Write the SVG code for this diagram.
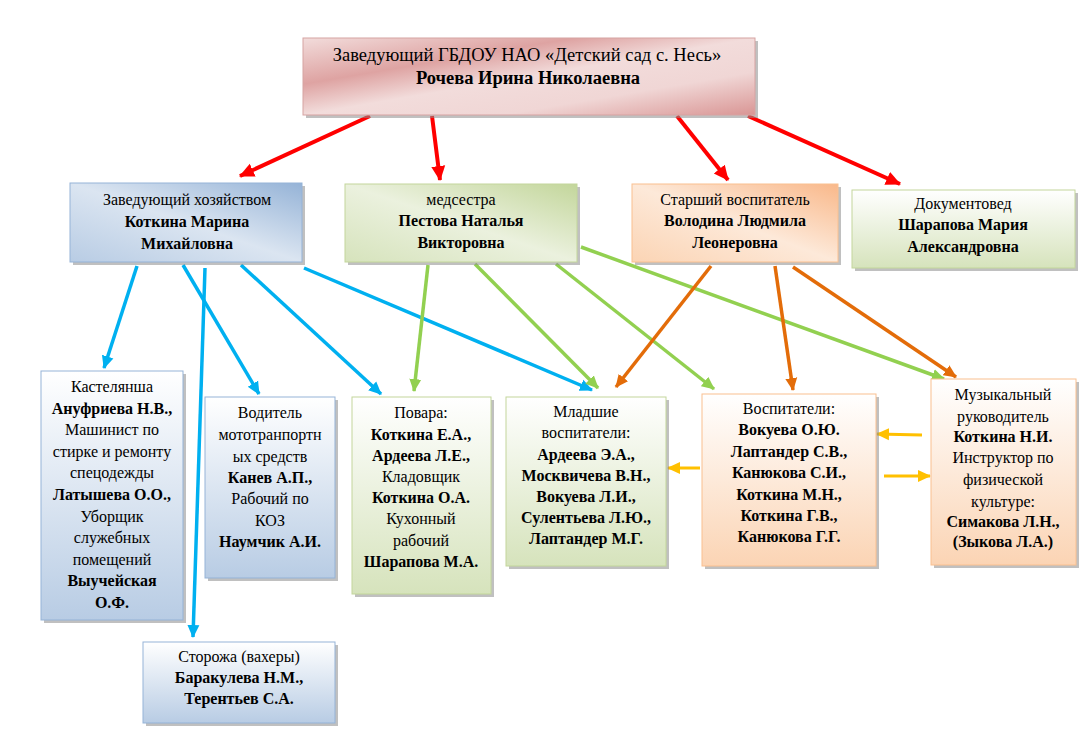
<svg xmlns="http://www.w3.org/2000/svg" width="1092" height="735" viewBox="0 0 1092 735">
<style>
text{font-family:'Liberation Serif','Times New Roman','DejaVu Serif',serif;font-size:16px;text-anchor:middle;fill:#000}
.b{font-weight:bold}
.t{font-size:18.5px}
.sh{fill:#8c8c8c;opacity:0.55}
.red{stroke:#ff0000;stroke-width:4;fill:none}
.blue{stroke:#00b0f0;stroke-width:3.5;fill:none}
.green{stroke:#92d050;stroke-width:3.5;fill:none}
.orange{stroke:#e36c09;stroke-width:3.5;fill:none}
.yellow{stroke:#ffc000;stroke-width:3;fill:none}
</style>
<defs>
<linearGradient id="gTop" x1="0" y1="0" x2="1" y2="1">
<stop offset="0" stop-color="#f2dcdb"/><stop offset="0.3" stop-color="#dea3a2"/><stop offset="0.5" stop-color="#f2dcdb"/><stop offset="0.72" stop-color="#f0d6d5"/><stop offset="1" stop-color="#d99594"/>
</linearGradient>
<linearGradient id="gBlue" x1="0" y1="1" x2="1" y2="0">
<stop offset="0" stop-color="#b8cce4"/><stop offset="0.5" stop-color="#dbe5f1"/><stop offset="1" stop-color="#95b3d7"/>
</linearGradient>
<linearGradient id="gGreen" x1="0" y1="1" x2="1" y2="0">
<stop offset="0" stop-color="#d6e3bc"/><stop offset="0.5" stop-color="#ebf1de"/><stop offset="1" stop-color="#c3d69b"/>
</linearGradient>
<linearGradient id="gOrange" x1="0" y1="1" x2="1" y2="0">
<stop offset="0" stop-color="#fbd4b4"/><stop offset="0.5" stop-color="#fde9d9"/><stop offset="1" stop-color="#f9b88a"/>
</linearGradient>
<linearGradient id="vGreen" x1="0" y1="0" x2="0" y2="1">
<stop offset="0" stop-color="#ffffff"/><stop offset="1" stop-color="#d6e3bc"/>
</linearGradient>
<linearGradient id="vBlue" x1="0" y1="0" x2="0" y2="1">
<stop offset="0" stop-color="#ffffff"/><stop offset="1" stop-color="#b8cce4"/>
</linearGradient>
<linearGradient id="vOrange" x1="0" y1="0" x2="0" y2="1">
<stop offset="0" stop-color="#ffffff"/><stop offset="1" stop-color="#fbd4b4"/>
</linearGradient>
<marker id="mRed" markerUnits="userSpaceOnUse" markerWidth="16" markerHeight="16" refX="14" refY="8" orient="auto"><path d="M0,1 L15,8 L0,15 Z" fill="#ff0000"/></marker>
<marker id="mBlue" markerUnits="userSpaceOnUse" markerWidth="14" markerHeight="14" refX="12" refY="7" orient="auto"><path d="M0,1 L13,7 L0,13 Z" fill="#00b0f0"/></marker>
<marker id="mGreen" markerUnits="userSpaceOnUse" markerWidth="14" markerHeight="14" refX="12" refY="7" orient="auto"><path d="M0,1 L13,7 L0,13 Z" fill="#92d050"/></marker>
<marker id="mOrange" markerUnits="userSpaceOnUse" markerWidth="14" markerHeight="14" refX="12" refY="7" orient="auto"><path d="M0,1 L13,7 L0,13 Z" fill="#e36c09"/></marker>
<marker id="mYellow" markerUnits="userSpaceOnUse" markerWidth="14" markerHeight="14" refX="12" refY="7" orient="auto"><path d="M0,1 L13,7 L0,13 Z" fill="#ffc000"/></marker>
</defs>
<rect width="1092" height="735" fill="#ffffff"/>

<g id="connectors">
<line class="red" x1="370" y1="116" x2="240" y2="176" marker-end="url(#mRed)"/>
<line class="red" x1="432" y1="116" x2="440" y2="180" marker-end="url(#mRed)"/>
<line class="red" x1="677" y1="116" x2="728" y2="180" marker-end="url(#mRed)"/>
<line class="red" x1="748" y1="116" x2="900" y2="184" marker-end="url(#mRed)"/>
<line class="blue" x1="137" y1="266" x2="104" y2="368" marker-end="url(#mBlue)"/>
<line class="blue" x1="183" y1="265" x2="259" y2="394" marker-end="url(#mBlue)"/>
<line class="blue" x1="205" y1="268" x2="193" y2="637" marker-end="url(#mBlue)"/>
<line class="blue" x1="241" y1="265" x2="381" y2="394" marker-end="url(#mBlue)"/>
<line class="blue" x1="304" y1="268" x2="592" y2="390" marker-end="url(#mBlue)"/>
<line class="green" x1="428" y1="265" x2="414" y2="391" marker-end="url(#mGreen)"/>
<line class="green" x1="475" y1="264" x2="598" y2="388" marker-end="url(#mGreen)"/>
<line class="green" x1="556" y1="264" x2="714" y2="389" marker-end="url(#mGreen)"/>
<line class="green" x1="581" y1="247" x2="944" y2="379" marker-end="url(#mGreen)"/>
<line class="orange" x1="711" y1="266" x2="616" y2="387" marker-end="url(#mOrange)"/>
<line class="orange" x1="775" y1="266" x2="793" y2="390" marker-end="url(#mOrange)"/>
<line class="orange" x1="793" y1="267" x2="956" y2="377" marker-end="url(#mOrange)"/>
<line class="yellow" x1="700" y1="468" x2="668" y2="468" marker-end="url(#mYellow)"/>
<line class="yellow" x1="922" y1="435" x2="877" y2="434" marker-end="url(#mYellow)"/>
<line class="yellow" x1="884" y1="476" x2="930" y2="476" marker-end="url(#mYellow)"/>
</g>

<g id="head" font-family="Liberation Serif, serif">
<rect class="sh" x="306" y="41" width="452" height="77"/>
<rect x="303" y="38" width="452" height="77" fill="url(#gTop)" stroke="#d6a3a2" stroke-width="1"/>
<text class="t" x="527" y="61">Заведующий ГБДОУ НАО «Детский сад с. Несь»</text>
<text class="t b" x="528" y="84">Рочева Ирина Николаевна</text>
</g>

<g id="zavhoz">
<rect class="sh" x="73" y="186" width="232" height="79"/>
<rect x="70" y="183" width="232" height="79" fill="url(#gBlue)" stroke="#95b3d7"/>
<text x="187" y="205">Заведующий хозяйством</text>
<text class="b" x="187" y="227">Коткина Марина</text>
<text class="b" x="187" y="249">Михайловна</text>
</g>

<g id="medsestra">
<rect class="sh" x="348" y="187" width="232" height="78"/>
<rect x="345" y="184" width="232" height="78" fill="url(#gGreen)" stroke="#c3d69b"/>
<text x="461" y="205">медсестра</text>
<text class="b" x="461" y="226">Пестова Наталья</text>
<text class="b" x="461" y="248">Викторовна</text>
</g>

<g id="starshiy">
<rect class="sh" x="635" y="187" width="206" height="78"/>
<rect x="632" y="184" width="206" height="78" fill="url(#gOrange)" stroke="#fac090"/>
<text x="735" y="205">Старший воспитатель</text>
<text class="b" x="735" y="226">Володина Людмила</text>
<text class="b" x="735" y="248">Леонеровна</text>
</g>

<g id="dokumentoved">
<rect class="sh" x="855" y="193" width="223" height="78"/>
<rect x="852" y="190" width="223" height="78" fill="url(#vGreen)" stroke="#c3d69b"/>
<text x="963" y="209">Документовед</text>
<text class="b" x="963" y="230">Шарапова Мария</text>
<text class="b" x="963" y="252">Александровна</text>
</g>

<g id="kastelyansha">
<rect class="sh" x="44" y="374" width="142" height="249"/>
<rect x="41" y="371" width="142" height="249" fill="url(#vBlue)" stroke="#95b3d7"/>
<text x="112" y="392">Кастелянша</text>
<text class="b" x="112" y="414">Ануфриева Н.В.,</text>
<text x="112" y="435">Машинист по</text>
<text x="112" y="457">стирке и ремонту</text>
<text x="112" y="478">спецодежды</text>
<text class="b" x="112" y="500">Латышева О.О.,</text>
<text x="112" y="522">Уборщик</text>
<text x="112" y="543">служебных</text>
<text x="112" y="565">помещений</text>
<text class="b" x="112" y="586">Выучейская</text>
<text class="b" x="112" y="608">О.Ф.</text>
</g>

<g id="voditel">
<rect class="sh" x="208" y="400" width="130" height="181"/>
<rect x="205" y="397" width="130" height="181" fill="url(#vBlue)" stroke="#95b3d7"/>
<text x="270" y="418">Водитель</text>
<text x="270" y="440">мототранпортн</text>
<text x="270" y="462">ых средств</text>
<text class="b" x="270" y="483">Канев А.П.,</text>
<text x="270" y="504">Рабочий по</text>
<text x="270" y="526">КОЗ</text>
<text class="b" x="270" y="547">Наумчик А.И.</text>
</g>

<g id="povara">
<rect class="sh" x="355" y="400" width="139" height="197"/>
<rect x="352" y="397" width="139" height="197" fill="url(#vGreen)" stroke="#c3d69b"/>
<text x="421" y="418">Повара:</text>
<text class="b" x="421" y="440">Коткина Е.А.,</text>
<text class="b" x="421" y="461">Ардеева Л.Е.,</text>
<text x="421" y="482">Кладовщик</text>
<text class="b" x="421" y="503">Коткина О.А.</text>
<text x="421" y="524">Кухонный</text>
<text x="421" y="546">рабочий</text>
<text class="b" x="421" y="567">Шарапова М.А.</text>
</g>

<g id="mladshie">
<rect class="sh" x="509" y="400" width="160" height="169"/>
<rect x="506" y="397" width="160" height="169" fill="url(#vGreen)" stroke="#c3d69b"/>
<text x="586" y="417">Младшие</text>
<text x="586" y="438">воспитатели:</text>
<text class="b" x="586" y="460">Ардеева Э.А.,</text>
<text class="b" x="586" y="481">Москвичева В.Н.,</text>
<text class="b" x="586" y="502">Вокуева Л.И.,</text>
<text class="b" x="586" y="523">Сулентьева Л.Ю.,</text>
<text class="b" x="586" y="544">Лаптандер М.Г.</text>
</g>

<g id="vospitateli">
<rect class="sh" x="705" y="397" width="174" height="172"/>
<rect x="702" y="394" width="174" height="172" fill="url(#vOrange)" stroke="#fac090"/>
<text x="789" y="414">Воспитатели:</text>
<text class="b" x="789" y="435">Вокуева О.Ю.</text>
<text class="b" x="789" y="457">Лаптандер С.В.,</text>
<text class="b" x="789" y="478">Канюкова С.И.,</text>
<text class="b" x="789" y="500">Коткина М.Н.,</text>
<text class="b" x="789" y="521">Коткина Г.В.,</text>
<text class="b" x="789" y="542">Канюкова Г.Г.</text>
</g>

<g id="muzykalny">
<rect class="sh" x="934" y="382" width="145" height="186"/>
<rect x="931" y="379" width="145" height="186" fill="url(#vOrange)" stroke="#fac090"/>
<text x="1003" y="400">Музыкальный</text>
<text x="1003" y="422">руководитель</text>
<text class="b" x="1003" y="442">Коткина Н.И.</text>
<text x="1003" y="463">Инструктор по</text>
<text x="1003" y="485">физической</text>
<text x="1003" y="507">культуре:</text>
<text class="b" x="1003" y="527">Симакова Л.Н.,</text>
<text class="b" x="1003" y="547">(Зыкова Л.А.)</text>
</g>

<g id="storozha">
<rect class="sh" x="146" y="645" width="192" height="81"/>
<rect x="143" y="642" width="192" height="81" fill="url(#vBlue)" stroke="#95b3d7"/>
<text x="239" y="662">Сторожа (вахеры)</text>
<text class="b" x="239" y="683">Баракулева Н.М.,</text>
<text class="b" x="239" y="704">Терентьев С.А.</text>
</g>
</svg>
